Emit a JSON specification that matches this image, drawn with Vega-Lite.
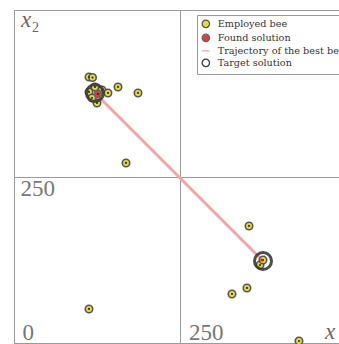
{
  "$schema": "https://vega.github.io/schema/vega-lite/v6.json",
  "width": 325,
  "height": 333,
  "autosize": {"type": "none"},
  "padding": {"left": 14, "top": 10, "right": 0, "bottom": 1},
  "datasets": {
    "bees": [
      {"x1": 112.6, "x2": 399.4, "kind": "Employed bee"},
      {"x1": 117.9, "x2": 398.6, "kind": "Employed bee"},
      {"x1": 156.2, "x2": 384.4, "kind": "Employed bee"},
      {"x1": 186.2, "x2": 375.4, "kind": "Employed bee"},
      {"x1": 168.2, "x2": 270.3, "kind": "Employed bee"},
      {"x1": 112.6, "x2": 376.9, "kind": "Employed bee"},
      {"x1": 121.6, "x2": 384.4, "kind": "Employed bee"},
      {"x1": 132.1, "x2": 379.9, "kind": "Employed bee"},
      {"x1": 141.1, "x2": 375.4, "kind": "Employed bee"},
      {"x1": 124.6, "x2": 360.4, "kind": "Employed bee"},
      {"x1": 117.1, "x2": 367.9, "kind": "Employed bee"},
      {"x1": 352.9, "x2": 175.7, "kind": "Employed bee"},
      {"x1": 369.4, "x2": 117.1, "kind": "Employed bee"},
      {"x1": 373.9, "x2": 124.6, "kind": "Employed bee"},
      {"x1": 349.8, "x2": 82.6, "kind": "Employed bee"},
      {"x1": 327.3, "x2": 73.6, "kind": "Employed bee"},
      {"x1": 427.9, "x2": 3.0, "kind": "Employed bee"},
      {"x1": 112.6, "x2": 51.1, "kind": "Employed bee"},
      {"x1": 126.1, "x2": 373.9, "kind": "Found solution"}
    ],
    "targets": [
      {"x1": 121.6, "x2": 375.4, "kind": "Target solution"},
      {"x1": 373.9, "x2": 123.1, "kind": "Target solution"}
    ],
    "trajectory": [
      {"step": 0, "x1": 372.4, "x2": 124.6, "kind": "Trajectory of the best bee"},
      {"step": 1, "x1": 126.1, "x2": 370.9, "kind": "Trajectory of the best bee"}
    ],
    "varNames": [
      {"x1": 10.5, "x2": 474.5, "t": "x"},
      {"x1": 467, "x2": 6, "t": "x"}
    ],
    "subscripts": [
      {"x1": 27, "x2": 467, "t": "2"}
    ]
  },
  "encoding": {
    "x": {
      "field": "x1", "type": "quantitative",
      "scale": {"domain": [0, 488], "nice": false, "zero": false},
      "axis": {
        "values": [0, 250], "title": null, "grid": true, "ticks": false,
        "labelAlign": "left", "labelBaseline": "alphabetic",
        "labelPadding": -4, "labelOffset": 8
      }
    },
    "y": {
      "field": "x2", "type": "quantitative",
      "scale": {"domain": [0, 500], "nice": false, "zero": false},
      "axis": {
        "values": [0, 250, 500], "title": null, "grid": true, "ticks": false,
        "labelAlign": "left", "labelBaseline": "alphabetic",
        "labelPadding": -6, "labelOffset": 19,
        "labelExpr": "datum.value == 250 ? datum.label : ''"
      }
    }
  },
  "layer": [
    {
      "data": {"name": "trajectory"},
      "mark": {"type": "line", "strokeWidth": 3},
      "encoding": {
        "order": {"field": "step", "type": "quantitative"},
        "stroke": {
          "field": "kind", "type": "nominal", "title": null,
          "scale": {
            "domain": ["Employed bee", "Found solution", "Trajectory of the best bee", "Target solution"],
            "range": ["#555555", "#666666", "#f2a6a6", "#3a3a3a"]
          }
        }
      }
    },
    {
      "data": {"name": "bees"},
      "transform": [{"filter": "datum.kind == 'Employed bee'"}],
      "mark": {"type": "point", "filled": true, "size": 55, "strokeWidth": 1.6, "opacity": 1},
      "encoding": {
        "fill": {
          "field": "kind", "type": "nominal", "title": null,
          "scale": {
            "domain": ["Employed bee", "Found solution", "Trajectory of the best bee", "Target solution"],
            "range": ["#e6dc3c", "#e03c3c", "#f2a6a6", "transparent"]
          },
          "legend": {
            "encode": {
              "symbols": {
                "update": {
                  "size": {"signal": "datum.value === 'Target solution' ? 95 : datum.value === 'Trajectory of the best bee' ? 100 : 55"},
                  "strokeWidth": {"signal": "datum.value === 'Target solution' ? 1.8 : datum.value === 'Trajectory of the best bee' ? 2.5 : 1.3"},
                  "opacity": {"value": 1}
                }
              }
            }
          }
        },
        "stroke": {"field": "kind", "type": "nominal", "title": null},
        "shape": {
          "field": "kind", "type": "nominal", "title": null,
          "scale": {
            "domain": ["Employed bee", "Found solution", "Trajectory of the best bee", "Target solution"],
            "range": ["circle", "circle", "stroke", "circle"]
          }
        }
      }
    },
    {
      "data": {"name": "targets"},
      "mark": {"type": "point", "filled": true, "size": 290, "strokeWidth": 3, "opacity": 0.9},
      "encoding": {
        "fill": {"field": "kind", "type": "nominal", "title": null},
        "stroke": {"field": "kind", "type": "nominal", "title": null},
        "shape": {"field": "kind", "type": "nominal", "title": null}
      }
    },
    {
      "data": {"name": "bees"},
      "transform": [{"filter": "datum.kind == 'Found solution'"}],
      "mark": {"type": "point", "filled": true, "size": 55, "strokeWidth": 1.6, "opacity": 1},
      "encoding": {
        "fill": {"field": "kind", "type": "nominal", "title": null},
        "stroke": {"field": "kind", "type": "nominal", "title": null},
        "shape": {"field": "kind", "type": "nominal", "title": null}
      }
    },
    {
      "data": {"name": "bees"},
      "mark": {"type": "point", "filled": true, "size": 5, "color": "#333333", "opacity": 1}
    },
    {
      "data": {"name": "trajectory"},
      "transform": [{"filter": "datum.step == 0"}],
      "mark": {"type": "point", "filled": true, "size": 10, "color": "#c02020", "opacity": 1}
    },
    {
      "data": {"name": "varNames"},
      "mark": {"type": "text", "font": "Liberation Serif", "fontStyle": "italic", "fontSize": 23, "align": "left", "baseline": "alphabetic", "color": "#666666"},
      "encoding": {"text": {"field": "t", "type": "nominal"}}
    },
    {
      "data": {"name": "subscripts"},
      "mark": {"type": "text", "font": "Liberation Serif", "fontSize": 14, "align": "left", "baseline": "alphabetic", "color": "#666666"},
      "encoding": {"text": {"field": "t", "type": "nominal"}}
    }
  ],
  "config": {
    "view": {"stroke": null},
    "axis": {
      "domainColor": "#9a9a9a",
      "domainWidth": 1,
      "gridColor": "#9a9a9a",
      "gridWidth": 1,
      "gridOpacity": 1,
      "labelFont": "Liberation Serif",
      "labelFontSize": 23,
      "labelColor": "#777777",
      "labelFlush": false,
      "labelOverlap": false,
      "labelBound": false
    },
    "legend": {
      "orient": "none",
      "legendX": 183,
      "legendY": 5,
      "padding": 4,
      "strokeColor": "#9a9a9a",
      "fillColor": "#ffffff",
      "labelFont": "DejaVu Serif",
      "labelFontSize": 9.7,
      "labelColor": "#333333",
      "labelOffset": 7,
      "labelLimit": 300,
      "rowPadding": 0,
      "symbolSize": 55,
      "symbolStrokeWidth": 1.3
    }
  }
}
